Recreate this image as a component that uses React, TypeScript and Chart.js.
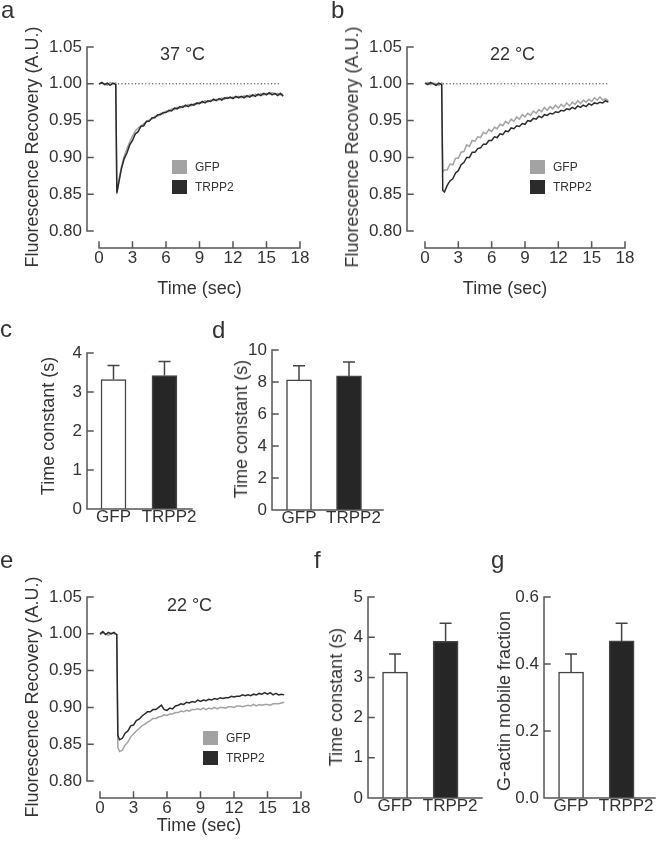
import React, { useEffect, useRef } from 'react';
import { Chart, registerables } from 'chart.js';

Chart.register(...registerables);

const FONT = '"Liberation Sans", Arial, Helvetica, sans-serif';
const TEXT = '#333333';
const AXIS = '#555555';
const GFP_LINE = '#a3a3a3';
const TRPP2_LINE = '#2b2b2b';
const GFP_FILL = '#ffffff';
const TRPP2_FILL = '#262626';

// ---------- data ----------
const CATEGORIES = ['GFP', 'TRPP2'];
const TIME_TICKS = [0, 3, 6, 9, 12, 15, 18];
const RECOVERY_TICKS = [0.8, 0.85, 0.9, 0.95, 1.0, 1.05];

const TIME = [
  0, 0.25, 0.5, 0.75, 1, 1.25, 1.5, 1.6, 1.75,
  2, 2.25, 2.5, 2.75,
  3, 3.25, 3.5, 3.75,
  4, 4.25, 4.5, 4.75,
  5, 5.25, 5.5, 5.75,
  6, 6.25, 6.5, 6.75,
  7, 7.25, 7.5, 7.75,
  8, 8.25, 8.5, 8.75,
  9, 9.25, 9.5, 9.75,
  10, 10.25, 10.5, 10.75,
  11, 11.25, 11.5, 11.75,
  12, 12.25, 12.5, 12.75,
  13, 13.25, 13.5, 13.75,
  14, 14.25, 14.5, 14.75,
  15, 15.25, 15.5, 15.75,
  16, 16.25, 16.5,
];

// panel a (37 °C)
const A_TRPP2 = [
  1.0, 1.002, 0.999, 1.001, 0.998, 1.001, 0.999, 0.852, 0.864,
  0.884, 0.898, 0.906, 0.917,
  0.923, 0.932, 0.935, 0.942,
  0.943, 0.949, 0.949, 0.954,
  0.954, 0.958, 0.958, 0.961,
  0.961, 0.964, 0.963, 0.967,
  0.966, 0.969, 0.968, 0.971,
  0.969, 0.972, 0.971, 0.974,
  0.973, 0.976, 0.974, 0.977,
  0.976, 0.979, 0.977, 0.98,
  0.978, 0.981, 0.98, 0.982,
  0.98, 0.983, 0.981, 0.983,
  0.981, 0.984, 0.982, 0.985,
  0.983, 0.986, 0.984, 0.987,
  0.985, 0.988, 0.985, 0.987,
  0.984, 0.987, 0.983,
];
const A_GFP = [
  0.999, 1.001, 1.0, 0.998, 1.002, 1.0, 1.001, 0.85, 0.866,
  0.887, 0.901, 0.912, 0.921,
  0.929, 0.936, 0.94, 0.943,
  0.946, 0.948, 0.951, 0.952,
  0.956, 0.956, 0.96, 0.959,
  0.963, 0.962, 0.966, 0.965,
  0.968, 0.967, 0.97, 0.969,
  0.972, 0.97, 0.973, 0.972,
  0.975, 0.974, 0.977, 0.975,
  0.978, 0.977, 0.979, 0.978,
  0.981, 0.979, 0.982, 0.98,
  0.982, 0.981, 0.983, 0.981,
  0.984, 0.982, 0.985, 0.983,
  0.986, 0.984, 0.987, 0.985,
  0.987, 0.986, 0.988, 0.986,
  0.987, 0.985, 0.986,
];

// panel b (22 °C)
const B_TRPP2 = [
  1.001, 0.999, 1.002, 1.0, 0.998, 1.001, 0.999, 0.855, 0.853,
  0.862, 0.868, 0.871, 0.879,
  0.882, 0.89, 0.893, 0.9,
  0.9, 0.907, 0.907, 0.912,
  0.913, 0.918, 0.918, 0.923,
  0.923, 0.928, 0.927, 0.932,
  0.931, 0.936, 0.935, 0.94,
  0.939, 0.943, 0.942, 0.946,
  0.945, 0.95, 0.949, 0.953,
  0.952, 0.956, 0.954, 0.958,
  0.957, 0.96, 0.959, 0.962,
  0.961, 0.964, 0.963, 0.966,
  0.965, 0.968, 0.966, 0.97,
  0.968, 0.971, 0.969, 0.973,
  0.971, 0.974, 0.973, 0.975,
  0.974, 0.977, 0.975,
];
const B_GFP = [
  1.0, 1.002, 0.999, 1.001, 1.0, 0.998, 1.001, 0.88, 0.883,
  0.883, 0.891, 0.89, 0.899,
  0.899, 0.907, 0.908, 0.917,
  0.915, 0.923, 0.922, 0.928,
  0.927, 0.934, 0.932, 0.938,
  0.935, 0.941, 0.939, 0.945,
  0.943, 0.949, 0.946, 0.952,
  0.949, 0.955, 0.952, 0.958,
  0.955, 0.96, 0.957, 0.963,
  0.96, 0.965, 0.962, 0.968,
  0.964, 0.969, 0.966, 0.971,
  0.967, 0.972, 0.969, 0.974,
  0.97, 0.975, 0.972, 0.977,
  0.973, 0.978, 0.975, 0.979,
  0.976, 0.981, 0.978, 0.982,
  0.978, 0.98, 0.977,
];

// panel e (22 °C)
const E_TRPP2 = [
  1.0, 1.003, 0.999, 1.002, 1.0, 1.002, 0.999, 0.862, 0.856,
  0.858, 0.865, 0.868, 0.875,
  0.876, 0.882, 0.884, 0.888,
  0.891, 0.894, 0.894, 0.897,
  0.897, 0.9, 0.903, 0.897,
  0.896, 0.899, 0.898, 0.902,
  0.903, 0.905, 0.904, 0.907,
  0.906, 0.908, 0.907, 0.91,
  0.908, 0.91, 0.909, 0.911,
  0.91, 0.912, 0.911, 0.913,
  0.912, 0.913, 0.913, 0.915,
  0.914, 0.915, 0.915, 0.917,
  0.916, 0.917, 0.916, 0.918,
  0.917, 0.919, 0.918, 0.92,
  0.918, 0.92, 0.917, 0.919,
  0.917, 0.918, 0.917,
];
const E_GFP = [
  0.999, 1.001, 1.0, 0.998, 1.001, 1.0, 0.999, 0.846, 0.84,
  0.842, 0.849, 0.853, 0.86,
  0.864, 0.868, 0.871, 0.875,
  0.877, 0.88, 0.882, 0.885,
  0.885, 0.887, 0.888, 0.89,
  0.889, 0.891, 0.891, 0.893,
  0.893, 0.895, 0.894, 0.896,
  0.895, 0.897, 0.897, 0.898,
  0.897, 0.899, 0.897, 0.899,
  0.898, 0.9, 0.898, 0.9,
  0.9, 0.899, 0.901, 0.901,
  0.9, 0.902, 0.902, 0.901,
  0.902, 0.903, 0.902, 0.904,
  0.902, 0.904, 0.903, 0.904,
  0.904, 0.903, 0.905, 0.905,
  0.905, 0.906, 0.907,
];

// dotted reference line (value 1.00) start/end times
const REF_LEVEL = 1.0;
const A_DOT = [1.7, 16.2];
const B_DOT = [1.6, 16.4];

// bar panels
const C_VALUES = [3.32, 3.42];
const C_ERRORS = [0.36, 0.36];
const C_TICKS = [0, 1, 2, 3, 4];

const D_VALUES = [8.13, 8.38];
const D_ERRORS = [0.89, 0.87];
const D_TICKS = [0, 2, 4, 6, 8, 10];

const F_VALUES = [3.13, 3.9];
const F_ERRORS = [0.45, 0.45];
const F_TICKS = [0, 1, 2, 3, 4, 5];

const G_VALUES = [0.376, 0.469];
const G_ERRORS = [0.054, 0.053];
const G_TICKS = [0, 0.2, 0.4, 0.6];

// category label anchors (second label sits slightly right of its bar)
const LABEL_ANCHORS = [0, 1.09];

// ---------- plugins ----------
const axesDeco = {
  id: 'axesDeco',
  afterDatasetsDraw(chart: any, _args: any, opts: any) {
    const { ctx, chartArea: ca } = chart;
    const xs = chart.scales.x;
    const ys = chart.scales.y;
    ctx.save();
    ctx.strokeStyle = AXIS;
    ctx.lineWidth = 1.5;
    ctx.lineCap = 'square';
    const tl = 6;
    const yTop = ys.getPixelForValue(opts.yTo);
    const yBot = opts.yFrom === null ? ca.bottom : ys.getPixelForValue(opts.yFrom);
    ctx.beginPath();
    ctx.moveTo(ca.left, yTop);
    ctx.lineTo(ca.left, yBot);
    ys.ticks.forEach((t: any) => {
      const py = ys.getPixelForValue(t.value);
      ctx.moveTo(ca.left, py);
      ctx.lineTo(ca.left + tl, py);
    });
    const x0 = opts.xFrom === null ? ca.left : xs.getPixelForValue(opts.xFrom);
    const x1 = opts.xTo === null ? ca.right : xs.getPixelForValue(opts.xTo);
    ctx.moveTo(x0, ca.bottom);
    ctx.lineTo(x1, ca.bottom);
    if (opts.xTickMarks) {
      xs.ticks.forEach((t: any) => {
        const px = xs.getPixelForValue(t.value);
        ctx.moveTo(px, ca.bottom);
        ctx.lineTo(px, ca.bottom - tl);
      });
    }
    ctx.stroke();
    if (opts.dotted) {
      const py = ys.getPixelForValue(opts.dotted.level);
      ctx.beginPath();
      ctx.lineCap = 'butt';
      ctx.setLineDash([1.2, 2.2]);
      ctx.lineWidth = 1;
      ctx.strokeStyle = '#333333';
      ctx.moveTo(xs.getPixelForValue(opts.dotted.from), py);
      ctx.lineTo(xs.getPixelForValue(opts.dotted.to), py);
      ctx.stroke();
    }
    ctx.restore();
  },
};

const errBars = {
  id: 'errBars',
  afterDatasetsDraw(chart: any, _args: any, opts: any) {
    const { ctx } = chart;
    const ys = chart.scales.y;
    const meta = chart.getDatasetMeta(0);
    ctx.save();
    ctx.strokeStyle = '#444444';
    ctx.lineWidth = 1.5;
    ctx.beginPath();
    opts.values.forEach((v: number, i: number) => {
      const el = meta.data[i];
      const x = el.x;
      const y0 = ys.getPixelForValue(v);
      const y1 = ys.getPixelForValue(v + opts.errors[i]);
      ctx.moveTo(x, y0);
      ctx.lineTo(x, y1);
      ctx.moveTo(x - 6, y1);
      ctx.lineTo(x + 6, y1);
    });
    ctx.stroke();
    ctx.restore();
  },
};

type Box = { x: number; y: number; w: number; h: number };
type Area = { l: number; t: number; r: number; b: number };

function frame(box: Box, area: Area) {
  return {
    responsive: false,
    maintainAspectRatio: false,
    devicePixelRatio: 1,
    animation: false as const,
    events: [],
    layout: {
      autoPadding: false,
      padding: { left: 0, bottom: 0, top: area.t - box.y, right: box.x + box.w - area.r },
    },
  };
}

function tickFont(size: number, lh?: number) {
  return lh ? { family: FONT, size, lineHeight: lh } : { family: FONT, size };
}

function lineConfig(box: Box, area: Area, xMin: number, yMin: number, gfp: number[], trpp2: number[], dot: number[] | null) {
  return () => ({
    type: 'line',
    data: {
      datasets: [
        {
          label: 'TRPP2',
          data: TIME.map((t, i) => ({ x: t, y: trpp2[i] })),
          borderColor: TRPP2_LINE,
          borderWidth: 1.5,
          pointRadius: 0,
          tension: 0,
          fill: false,
        },
        {
          label: 'GFP',
          data: TIME.map((t, i) => ({ x: t, y: gfp[i] })),
          borderColor: GFP_LINE,
          borderWidth: 1.5,
          pointRadius: 0,
          tension: 0,
          fill: false,
        },
      ],
    },
    options: {
      ...frame(box, area),
      scales: {
        x: {
          type: 'linear',
          offset: false,
          min: xMin,
          max: 18,
          afterBuildTicks: (s: any) => {
            s.ticks = TIME_TICKS.map((v) => ({ value: v }));
          },
          afterFit: (s: any) => {
            s.height = box.y + box.h - area.b;
          },
          grid: { display: false, drawTicks: false },
          border: { display: false },
          ticks: {
            font: tickFont(17, 1),
            color: TEXT,
            padding: 2,
            maxRotation: 0,
            autoSkip: false,
            callback: (v: number) => String(v),
          },
        },
        y: {
          type: 'linear',
          min: yMin,
          max: 1.05,
          afterBuildTicks: (s: any) => {
            s.ticks = RECOVERY_TICKS.map((v) => ({ value: v }));
          },
          afterFit: (s: any) => {
            s.width = area.l - box.x;
          },
          grid: { display: false, drawTicks: false },
          border: { display: false },
          ticks: {
            font: tickFont(17),
            color: TEXT,
            padding: 5,
            autoSkip: false,
            callback: (v: number) => v.toFixed(2),
          },
        },
      },
      plugins: {
        legend: { display: false },
        tooltip: { enabled: false },
        title: { display: false },
        axesDeco: {
          yFrom: 0.8,
          yTo: 1.05,
          xFrom: 0,
          xTo: 18,
          xTickMarks: true,
          dotted: dot ? { level: REF_LEVEL, from: dot[0], to: dot[1] } : null,
        },
      },
    },
    plugins: [axesDeco],
  });
}

function barConfig(box: Box, area: Area, xMin: number, xMax: number, ticks: number[], values: number[], errors: number[], decimals: number) {
  return () => ({
    type: 'bar',
    data: {
      datasets: [
        {
          data: values.map((v, i) => ({ x: i, y: v })),
          backgroundColor: [GFP_FILL, TRPP2_FILL],
          borderColor: '#444444',
          borderWidth: 1.5,
          barThickness: 25,
        },
      ],
    },
    options: {
      ...frame(box, area),
      scales: {
        x: {
          type: 'linear',
          offset: false,
          min: xMin,
          max: xMax,
          afterBuildTicks: (s: any) => {
            s.ticks = LABEL_ANCHORS.map((v) => ({ value: v }));
          },
          afterFit: (s: any) => {
            s.height = box.y + box.h - area.b;
          },
          grid: { display: false, drawTicks: false, offset: false },
          border: { display: false },
          ticks: {
            font: tickFont(17, 1),
            color: TEXT,
            padding: 0,
            maxRotation: 0,
            autoSkip: false,
            callback: (v: number) => CATEGORIES[Math.round(v)] ?? '',
          },
        },
        y: {
          type: 'linear',
          min: 0,
          max: ticks[ticks.length - 1],
          afterBuildTicks: (s: any) => {
            s.ticks = ticks.map((v) => ({ value: v }));
          },
          afterFit: (s: any) => {
            s.width = area.l - box.x;
          },
          grid: { display: false, drawTicks: false },
          border: { display: false },
          ticks: {
            font: tickFont(17),
            color: TEXT,
            padding: 5,
            autoSkip: false,
            callback: (v: number) => v.toFixed(decimals),
          },
        },
      },
      plugins: {
        legend: { display: false },
        tooltip: { enabled: false },
        title: { display: false },
        axesDeco: {
          yFrom: null,
          yTo: ticks[ticks.length - 1],
          xFrom: null,
          xTo: null,
          xTickMarks: false,
          dotted: null,
        },
        errBars: { values, errors },
      },
    },
    plugins: [axesDeco, errBars],
  });
}

function ChartCanvas({ box, make }: { box: Box; make: () => any }) {
  const ref = useRef<HTMLCanvasElement | null>(null);
  useEffect(() => {
    if (!ref.current) return;
    const chart = new Chart(ref.current, make());
    return () => chart.destroy();
  }, []);
  return (
    <canvas
      ref={ref}
      width={box.w}
      height={box.h}
      style={{ position: 'absolute', left: box.x, top: box.y, width: box.w, height: box.h }}
    />
  );
}

function Txt({ x, base, size = 18, align = 'left', children }: any) {
  return (
    <div
      style={{
        position: 'absolute',
        left: x,
        top: base - 0.8465 * size,
        transform: align === 'center' ? 'translateX(-50%)' : undefined,
        fontFamily: FONT,
        fontSize: size,
        lineHeight: `${size}px`,
        color: TEXT,
        whiteSpace: 'nowrap',
      }}
    >
      {children}
    </div>
  );
}

function VTxt({ cx, cy, size = 18, children }: any) {
  return (
    <div
      style={{
        position: 'absolute',
        left: cx,
        top: cy,
        transform: 'translate(-50%, -50%) rotate(-90deg)',
        fontFamily: FONT,
        fontSize: size,
        lineHeight: `${size}px`,
        color: TEXT,
        whiteSpace: 'nowrap',
      }}
    >
      {children}
    </div>
  );
}

function Legend({ x, y }: { x: number; y: number }) {
  const items = [
    { label: CATEGORIES[0], color: GFP_LINE, dy: 0 },
    { label: CATEGORIES[1], color: TRPP2_LINE, dy: 20 },
  ];
  return (
    <>
      {items.map((it) => (
        <React.Fragment key={it.label}>
          <div
            style={{
              position: 'absolute',
              left: x,
              top: y + it.dy,
              width: 15,
              height: 14,
              background: it.color,
            }}
          />
          <Txt x={x + 23} base={y + it.dy + 11.3} size={12}>
            {it.label}
          </Txt>
        </React.Fragment>
      ))}
    </>
  );
}

const BOX_A: Box = { x: 0, y: 0, w: 330, h: 300 };
const AREA_A: Area = { l: 87, t: 47, r: 300, b: 248 };
const BOX_B: Box = { x: 330, y: 0, w: 330, h: 300 };
const AREA_B: Area = { l: 407, t: 47, r: 625, b: 248 };
const BOX_E: Box = { x: 0, y: 550, w: 330, h: 291 };
const AREA_E: Area = { l: 87, t: 597, r: 301, b: 798 };
const BOX_C: Box = { x: 0, y: 300, w: 210, h: 250 };
const AREA_C: Area = { l: 87, t: 353, r: 192, b: 509 };
const BOX_D: Box = { x: 205, y: 300, w: 195, h: 250 };
const AREA_D: Area = { l: 272, t: 350, r: 383, b: 510 };
const BOX_F: Box = { x: 330, y: 550, w: 165, h: 291 };
const AREA_F: Area = { l: 368, t: 597, r: 482, b: 798 };
const BOX_G: Box = { x: 495, y: 550, w: 165, h: 291 };
const AREA_G: Area = { l: 544, t: 597, r: 655, b: 798 };

const ymin = 0.8 - 17 / 736;

export default function App() {
  return (
    <div style={{ position: 'absolute', left: 0, top: 0, width: 660, height: 841, background: '#ffffff', overflow: 'hidden' }}>
      <ChartCanvas box={BOX_A} make={lineConfig(BOX_A, AREA_A, -1.075, ymin, A_GFP, A_TRPP2, A_DOT)} />
      <ChartCanvas box={BOX_B} make={lineConfig(BOX_B, AREA_B, -1.62, ymin, B_GFP, B_TRPP2, B_DOT)} />
      <ChartCanvas box={BOX_E} make={lineConfig(BOX_E, AREA_E, -1.164, ymin, E_GFP, E_TRPP2, null)} />
      <ChartCanvas box={BOX_C} make={barConfig(BOX_C, AREA_C, -0.52, 1.54, C_TICKS, C_VALUES, C_ERRORS, 0)} />
      <ChartCanvas box={BOX_D} make={barConfig(BOX_D, AREA_D, -0.54, 1.68, D_TICKS, D_VALUES, D_ERRORS, 0)} />
      <ChartCanvas box={BOX_F} make={barConfig(BOX_F, AREA_F, -0.535, 1.72, F_TICKS, F_VALUES, F_ERRORS, 0)} />
      <ChartCanvas box={BOX_G} make={barConfig(BOX_G, AREA_G, -0.535, 1.66, G_TICKS, G_VALUES, G_ERRORS, 1)} />

      {/* panel letters */}
      <Txt x={1} base={18} size={24}>a</Txt>
      <Txt x={331} base={18} size={24}>b</Txt>
      <Txt x={0} base={337} size={24}>c</Txt>
      <Txt x={212} base={338} size={24}>d</Txt>
      <Txt x={0} base={568} size={24}>e</Txt>
      <Txt x={314} base={568} size={24}>f</Txt>
      <Txt x={491} base={568} size={24}>g</Txt>

      {/* temperatures */}
      <Txt x={182.5} base={60} align="center">37 °C</Txt>
      <Txt x={512.5} base={60} align="center">22 °C</Txt>
      <Txt x={189.5} base={611} align="center">22 °C</Txt>

      {/* axis titles */}
      <VTxt cx={31.5} cy={147}>Fluorescence Recovery (A.U.)</VTxt>
      <VTxt cx={351.5} cy={147}>Fluorescence Recovery (A.U.)</VTxt>
      <VTxt cx={31.5} cy={696.5}>Fluorescence Recovery (A.U.)</VTxt>
      <Txt x={199.5} base={294} align="center">Time (sec)</Txt>
      <Txt x={505} base={294} align="center">Time (sec)</Txt>
      <Txt x={199} base={831} align="center">Time (sec)</Txt>
      <VTxt cx={48} cy={425.5}>Time constant (s)</VTxt>
      <VTxt cx={240.5} cy={429}>Time constant (s)</VTxt>
      <VTxt cx={335.5} cy={697}>Time constant (s)</VTxt>
      <VTxt cx={503.5} cy={701}>G-actin mobile fraction</VTxt>

      {/* legends */}
      <Legend x={172} y={160} />
      <Legend x={530} y={160} />
      <Legend x={203} y={731} />
    </div>
  );
}
